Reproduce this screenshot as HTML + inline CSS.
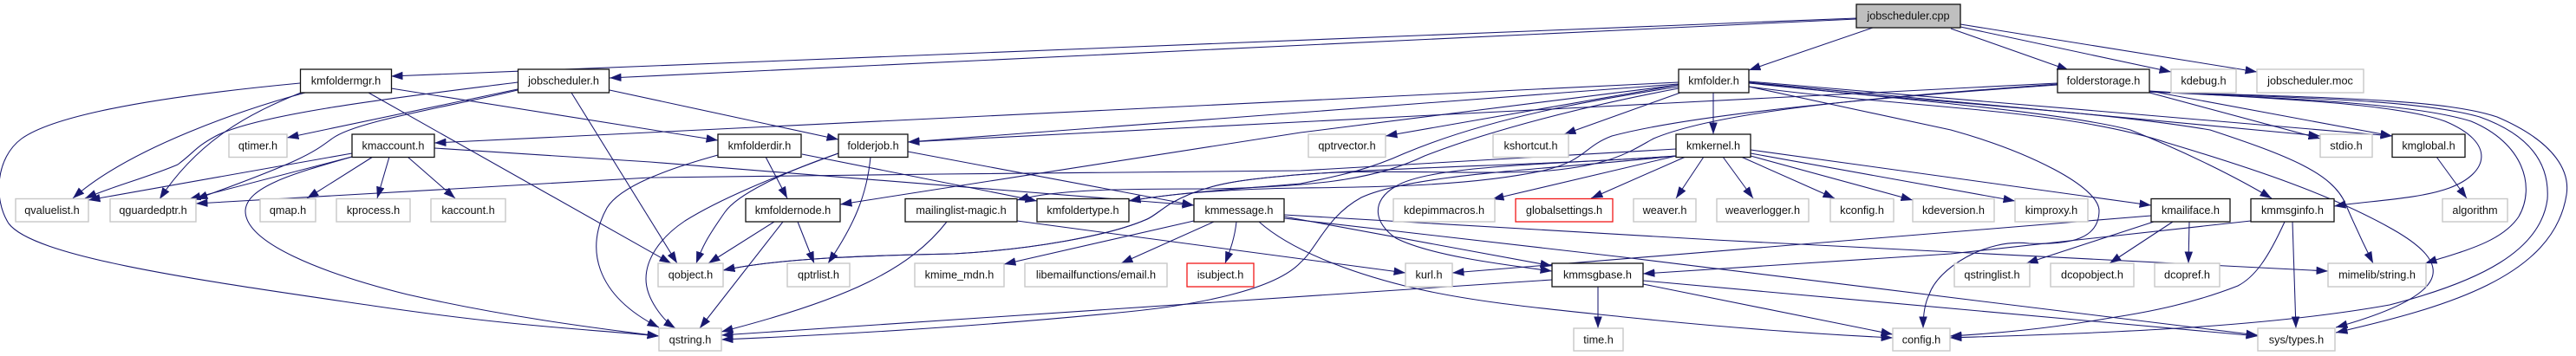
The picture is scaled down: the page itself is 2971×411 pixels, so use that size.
<!DOCTYPE html>
<html><head><meta charset="utf-8"><title>jobscheduler.cpp include graph</title>
<style>
html,body{margin:0;padding:0;background:#fff}
svg{display:block}
text{font-family:"Liberation Sans",Arial,sans-serif;font-size:12.7px;text-anchor:middle;fill:#111;transform:translateY(-.7px)}
.e path{fill:none;stroke:#191970;stroke-width:1.05;marker-end:url(#a)}
.b rect{fill:#fff;stroke:#111;stroke-width:1.3}
.g rect{fill:#fff;stroke:#c8c8c8;stroke-width:1.4}
.r rect{fill:#fff;stroke:#f01818;stroke-width:1.3}
</style></head><body>
<svg width="2971" height="411" viewBox="0 0 2971 411" xmlns="http://www.w3.org/2000/svg">
<defs><marker id="a" markerUnits="userSpaceOnUse" markerWidth="14" markerHeight="11" refX="13.5" refY="4.75" orient="auto"><path d="M0,0L13.5,4.75L0,9.5z" fill="#191970"/></marker></defs>
<g class="e">
<path d="M2141,21L451,88"/>
<path d="M2141,22L703,90"/>
<path d="M2160,32L2017,81"/>
<path d="M2250,33L2386,81"/>
<path d="M2261,31L2504,83"/>
<path d="M2261,28L2603,83"/>
<path d="M346,96C220,108 70,128 25,160C-5,182 -8,230 10,258C40,298 240,325 430,353C600,378 680,380 760,388"/>
<path d="M352,107C285,125 150,170 84,229"/>
<path d="M347,107C290,130 230,160 184,230"/>
<path d="M425,107L774,304"/>
<path d="M451,102L828,162"/>
<path d="M659,107L781,304"/>
<path d="M597,103L331,159"/>
<path d="M597,95C480,110 300,130 249,157C225,170 225,175 205,190C170,205 130,215 98,229"/>
<path d="M597,104C510,125 410,140 383,160C360,177 350,185 226,230"/>
<path d="M703,104L967,161"/>
<path d="M406,177L102,231"/>
<path d="M406,181L218,230"/>
<path d="M406,181C340,200 285,215 283,243C282,280 370,315 470,340C580,365 680,378 760,388"/>
<path d="M430,181L354,229"/>
<path d="M449,181L435,229"/>
<path d="M470,181L525,229"/>
<path d="M501,171L750,187L1377,237"/>
<path d="M883,181L908,229"/>
<path d="M925,178L1196,232"/>
<path d="M828,179C770,195 715,215 700,240C675,285 685,340 760,378"/>
<path d="M1004,181C1000,225 985,260 955,304"/>
<path d="M967,177C900,200 850,225 836,245C815,275 810,285 803,304"/>
<path d="M967,177C890,205 830,230 790,255C760,275 745,300 745,322C745,345 765,370 779,379"/>
<path d="M1047,175L1377,237"/>
<path d="M893,256L817,304"/>
<path d="M903,256L807,379"/>
<path d="M920,256L939,304"/>
<path d="M1092,256C1050,310 980,345 832,383"/>
<path d="M1173,255L1621,315"/>
<path d="M1377,255L1158,305"/>
<path d="M1400,256L1293,304"/>
<path d="M1426,256C1424,275 1419,288 1413,304"/>
<path d="M1481,250L1790,307"/>
<path d="M1452,256C1490,290 1560,315 1620,330C1700,350 1800,358 1883,367C1990,378 2100,386 2183,390"/>
<path d="M1481,248L1978,277L2685,313"/>
<path d="M1481,252L1873,297L2604,387"/>
<path d="M1790,323L832,387"/>
<path d="M1843,331L1843,379"/>
<path d="M1895,328L2183,386"/>
<path d="M1895,324L2604,388"/>
<path d="M1936,98L1598,157"/>
<path d="M1938,107L1804,155"/>
<path d="M1976,107L1976,155"/>
<path d="M1936,95L501,165"/>
<path d="M1936,97L1047,164"/>
<path d="M2373,96L1047,164"/>
<path d="M1936,98L1500,153L969,236"/>
<path d="M1936,100C1840,115 1720,135 1620,177C1580,195 1550,202 1500,212C1430,218 1360,222 1302,232"/>
<path d="M1936,102C1830,122 1720,150 1643,180C1590,205 1530,215 1400,218C1300,218 1220,218 1173,231"/>
<path d="M2373,98C2200,110 1960,130 1859,157C1825,170 1830,185 1780,197C1700,214 1600,216 1500,217C1430,218 1360,222 1302,232"/>
<path d="M2373,97C2200,110 1990,125 1907,160C1880,175 1860,190 1787,197C1700,203 1580,193 1483,203C1430,208 1390,212 1350,235C1335,245 1330,250 1323,253C1280,272 1190,288 1100,293C1000,295 900,298 834,312"/>
<path d="M1933,180C1800,190 1600,193 1483,203C1430,208 1390,212 1350,235C1335,245 1330,250 1323,253C1280,272 1190,288 1100,293C1000,295 900,298 834,312"/>
<path d="M1933,172L1500,197L1085,201L750,205L226,235"/>
<path d="M1933,180L1721,230"/>
<path d="M1944,181L1835,229"/>
<path d="M1965,181L1933,229"/>
<path d="M1987,181L2022,229"/>
<path d="M2008,181L2116,229"/>
<path d="M2019,180L2206,231"/>
<path d="M2019,177L2324,232"/>
<path d="M2019,173L2481,237"/>
<path d="M1933,180C1800,195 1630,200 1570,228C1530,250 1520,285 1500,303C1470,335 1380,352 1300,360C1150,375 1000,385 832,392"/>
<path d="M1933,180C1800,190 1650,190 1610,215C1580,232 1585,258 1610,275C1650,295 1730,305 1790,313"/>
<path d="M2484,256L2337,304"/>
<path d="M2506,256L2433,304"/>
<path d="M2525,256L2524,304"/>
<path d="M2481,249L1675,315"/>
<path d="M2596,255L2250,293L1895,316"/>
<path d="M2635,256C2615,300 2600,320 2581,330C2530,350 2480,360 2434,367C2360,380 2300,385 2249,388"/>
<path d="M2644,256L2648,379"/>
<path d="M2810,181L2845,229"/>
<path d="M2479,107L2676,160"/>
<path d="M2479,105L2759,157"/>
<path d="M2479,105C2600,113 2760,118 2820,140C2880,165 2870,200 2825,217C2790,230 2730,232 2692,238"/>
<path d="M2479,106C2620,113 2780,118 2850,140C2910,165 2925,215 2905,250C2885,280 2840,290 2797,304"/>
<path d="M2479,106C2650,113 2790,115 2860,135C2930,160 2940,200 2938,230C2930,290 2860,325 2756,352C2600,380 2400,385 2249,390"/>
<path d="M2479,106C2700,113 2820,115 2880,135C2950,165 2964,200 2960,225C2945,320 2820,355 2694,384"/>
<path d="M2017,95L2676,157"/>
<path d="M2017,94L2759,157"/>
<path d="M2017,96C2200,115 2380,130 2457,150C2520,175 2580,205 2620,229"/>
<path d="M2017,95C2200,118 2400,125 2549,150C2640,180 2690,200 2705,235C2720,270 2730,290 2737,304"/>
<path d="M2017,100C2200,125 2380,125 2500,165C2600,195 2690,225 2760,265C2830,305 2830,340 2694,378"/>
<path d="M2017,100L2250,150C2340,175 2420,215 2421,243C2421,275 2390,283 2340,281C2290,275 2235,310 2225,340C2220,350 2218,365 2218,379"/>
</g>
<g class="b">
<rect x="346.5" y="80" width="105" height="27"/><text x="399" y="98">kmfoldermgr.h</text>
<rect x="597.5" y="80" width="105" height="27"/><text x="650" y="98">jobscheduler.h</text>
<rect x="406" y="155" width="95" height="26.500"/><text x="453.500" y="173">kmaccount.h</text>
<rect x="828" y="155" width="96" height="26.500"/><text x="876" y="173">kmfolderdir.h</text>
<rect x="967" y="155" width="80" height="26.500"/><text x="1007" y="173">folderjob.h</text>
<rect x="860" y="229.500" width="109" height="26.500"/><text x="914.500" y="247.500">kmfoldernode.h</text>
<rect x="1044" y="229.500" width="129" height="26.500"/><text x="1108.500" y="247.500">mailinglist-magic.h</text>
<rect x="1196" y="229.500" width="106" height="26.500"/><text x="1249" y="247.500">kmfoldertype.h</text>
<rect x="1377" y="229.500" width="104" height="26.500"/><text x="1429" y="247.500">kmmessage.h</text>
<rect x="1936" y="80" width="81" height="27"/><text x="1976.500" y="98">kmfolder.h</text>
<rect x="1933" y="155" width="86" height="26.500"/><text x="1976" y="173">kmkernel.h</text>
<rect x="1790" y="304" width="105" height="27"/><text x="1842.500" y="322">kmmsgbase.h</text>
<rect x="2373" y="80" width="106" height="27"/><text x="2426" y="98">folderstorage.h</text>
<rect x="2759" y="155" width="84" height="26.500"/><text x="2801" y="173">kmglobal.h</text>
<rect x="2481" y="229.500" width="91" height="26.500"/><text x="2526.500" y="247.500">kmailiface.h</text>
<rect x="2596" y="229.500" width="96" height="26.500"/><text x="2644" y="247.500">kmmsginfo.h</text>
<rect x="2141" y="5" width="120" height="27" style="fill:#bfbfbf"/><text x="2201" y="23">jobscheduler.cpp</text>
</g>
<g class="g">
<rect x="264" y="155" width="67" height="26.500"/><text x="297.500" y="173">qtimer.h</text>
<rect x="18" y="229.500" width="84" height="26.500"/><text x="60" y="247.500">qvaluelist.h</text>
<rect x="127" y="229.500" width="99" height="26.500"/><text x="176.500" y="247.500">qguardedptr.h</text>
<rect x="300" y="229.500" width="64" height="26.500"/><text x="332" y="247.500">qmap.h</text>
<rect x="388" y="229.500" width="85" height="26.500"/><text x="430.500" y="247.500">kprocess.h</text>
<rect x="497" y="229.500" width="86" height="26.500"/><text x="540" y="247.500">kaccount.h</text>
<rect x="759" y="304" width="75" height="27"/><text x="796.500" y="322">qobject.h</text>
<rect x="908" y="304" width="72" height="27"/><text x="944" y="322">qptrlist.h</text>
<rect x="1055" y="304" width="103" height="27"/><text x="1106.500" y="322">kmime_mdn.h</text>
<rect x="1182" y="304" width="164" height="27"/><text x="1264" y="322">libemailfunctions/email.h</text>
<rect x="760" y="379" width="72" height="26"/><text x="796" y="397">qstring.h</text>
<rect x="1509" y="155" width="89" height="26.500"/><text x="1553.500" y="173">qptrvector.h</text>
<rect x="1722" y="155" width="87" height="26.500"/><text x="1765.500" y="173">kshortcut.h</text>
<rect x="1607" y="229.500" width="117" height="26.500"/><text x="1665.500" y="247.500">kdepimmacros.h</text>
<rect x="1884" y="229.500" width="72" height="26.500"/><text x="1920" y="247.500">weaver.h</text>
<rect x="1980" y="229.500" width="106" height="26.500"/><text x="2033" y="247.500">weaverlogger.h</text>
<rect x="2111" y="229.500" width="73" height="26.500"/><text x="2147.500" y="247.500">kconfig.h</text>
<rect x="2206" y="229.500" width="94" height="26.500"/><text x="2253" y="247.500">kdeversion.h</text>
<rect x="1621" y="304" width="54" height="27"/><text x="1648" y="322">kurl.h</text>
<rect x="1815" y="379" width="57" height="26"/><text x="1843.500" y="397">time.h</text>
<rect x="2183" y="379" width="66" height="26"/><text x="2216" y="397">config.h</text>
<rect x="2504" y="80" width="75" height="27"/><text x="2541.500" y="98">kdebug.h</text>
<rect x="2603" y="80" width="123" height="27"/><text x="2664.500" y="98">jobscheduler.moc</text>
<rect x="2676" y="155" width="60" height="26.500"/><text x="2706" y="173">stdio.h</text>
<rect x="2324" y="229.500" width="84" height="26.500"/><text x="2366" y="247.500">kimproxy.h</text>
<rect x="2817" y="229.500" width="75" height="26.500"/><text x="2854.500" y="247.500">algorithm</text>
<rect x="2254" y="304" width="87" height="27"/><text x="2297.500" y="322">qstringlist.h</text>
<rect x="2365" y="304" width="96" height="27"/><text x="2413" y="322">dcopobject.h</text>
<rect x="2485" y="304" width="75" height="27"/><text x="2522.500" y="322">dcopref.h</text>
<rect x="2685" y="304" width="113" height="27"/><text x="2741.500" y="322">mimelib/string.h</text>
<rect x="2604" y="379" width="89" height="26"/><text x="2648.500" y="397">sys/types.h</text>
</g>
<g class="r">
<rect x="1369" y="304" width="77" height="27"/><text x="1407.500" y="322">isubject.h</text>
<rect x="1748" y="229.500" width="112" height="26.500"/><text x="1804" y="247.500">globalsettings.h</text>
</g>
</svg>
</body></html>
